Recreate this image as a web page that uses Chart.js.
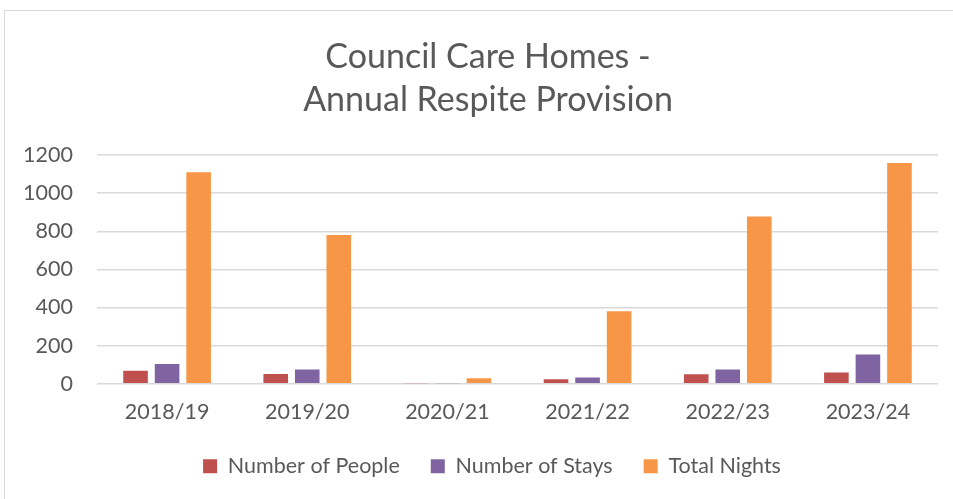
<!DOCTYPE html>
<html>
<head>
<meta charset="utf-8">
<script src="https://cdn.jsdelivr.net/npm/chart.js@4"></script>
<style>
  html, body { margin: 0; padding: 0; background: #fff; }
  #wrap { position: relative; width: 953px; height: 499px; overflow: hidden; }
  #frame { position: absolute; left: 4px; top: 10px; width: 1000px; height: 600px; border: 1px solid #d9d9d9; }
  #chart { position: absolute; left: 0; top: 0; }
</style>
</head>
<body>
<div id="wrap">
  <div id="frame"></div>
  <canvas id="chart" width="953" height="499"></canvas>
</div>
<script>
const years = ['2018/19', '2019/20', '2020/21', '2021/22', '2022/23', '2023/24'];
const people = [68, 51, 2, 23, 49, 59];
const stays = [104, 74, 2, 32, 74, 153];
const nights = [1110, 780, 28, 380, 878, 1158];

const textColor = '#595959';
const fontFamily = 'Lato, Carlito, "Open Sans", sans-serif';

// title and legend sit a little right of the plot centre in the original
const nudgeBoxes = {
  id: 'nudgeBoxes',
  afterLayout(chart) {
    chart.titleBlock.left += 19;
    chart.titleBlock.right += 19;
    chart.legend.left += 23;
    chart.legend.right += 23;
  }
};

new Chart(document.getElementById('chart'), {
  type: 'bar',
  data: {
    labels: years,
    datasets: [
      { label: 'Number of People', data: people, backgroundColor: '#C0504D' },
      { label: 'Number of Stays', data: stays, backgroundColor: '#8064A2' },
      { label: 'Total Nights', data: nights, backgroundColor: '#F79646' }
    ]
  },
  plugins: [nudgeBoxes],
  options: {
    responsive: false,
    animation: false,
    categoryPercentage: 0.675,
    barPercentage: 0.78,
    layout: { padding: { left: 0, right: 15, top: 0, bottom: 12 } },
    plugins: {
      title: {
        display: true,
        text: ['Council Care Homes -', 'Annual Respite Provision'],
        color: textColor,
        font: { family: fontFamily, size: 34, weight: '400', lineHeight: 1.28 },
        padding: { top: 35, bottom: 33 }
      },
      legend: {
        position: 'bottom',
        labels: {
          color: textColor,
          font: { family: fontFamily, size: 21.5 },
          boxWidth: 14,
          boxHeight: 14,
          padding: 31
        }
      },
      tooltip: { enabled: false }
    },
    scales: {
      x: {
        grid: { display: false, drawTicks: true, tickLength: 15 },
        border: { display: false },
        ticks: { color: textColor, font: { family: fontFamily, size: 21.5 }, padding: 0 }
      },
      y: {
        min: 0,
        max: 1200,
        afterFit: (scale) => { scale.width = 97; },
        grid: { color: '#d9d9d9', lineWidth: 1.5, drawTicks: false },
        border: { display: false },
        ticks: {
          stepSize: 200,
          color: textColor,
          font: { family: fontFamily, size: 21.5 },
          padding: 24,
          callback: (v) => String(v)
        }
      }
    }
  }
});
</script>
</body>
</html>
